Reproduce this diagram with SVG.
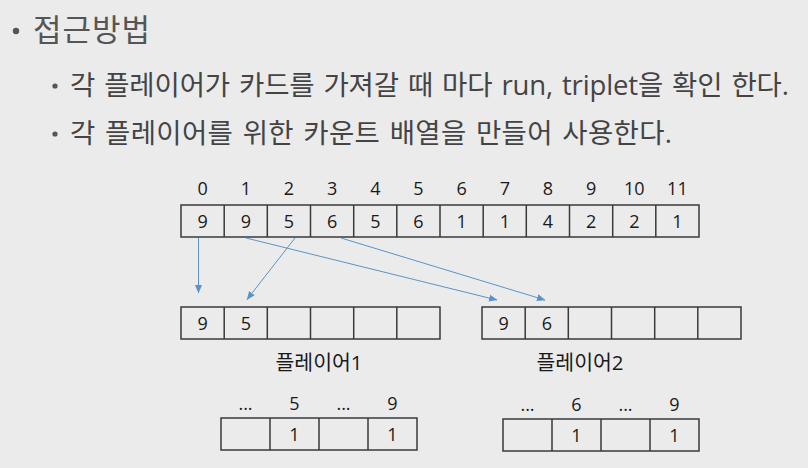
<svg xmlns="http://www.w3.org/2000/svg" width="808" height="468" viewBox="0 0 808 468">
<style>
.bg{fill:#ebebeb}
.cell{fill:none;stroke:#3a3a3a;stroke-width:1.5}
.num{font-family:"Open Sans","Noto Sans",sans-serif;font-size:18px;fill:#1a1a1a;text-anchor:middle}
.lbl{font-family:"Open Sans","Noto Sans CJK KR",sans-serif;font-size:20.5px;fill:#1a1a1a;text-anchor:middle}
.h1{font-family:"Open Sans","Noto Sans CJK KR",sans-serif;font-size:31px;fill:#555555}
.h2{font-family:"Open Sans","Noto Sans CJK KR",sans-serif;font-size:27.5px;fill:#444444;word-spacing:2px}
.bul{fill:#555555}
.conn{stroke:#5b93c8;stroke-width:1;fill:none;marker-end:url(#ah)}
</style>
<defs>
<marker id="ah" markerWidth="9" markerHeight="8" refX="8" refY="4" orient="auto" markerUnits="userSpaceOnUse">
<path d="M0,0.5 L8.5,4 L0,7.5 z" fill="#5b93c8"/>
</marker>
</defs>
<rect class="bg" x="0" y="0" width="808" height="468"/>

<g id="title">
<circle class="bul" cx="16" cy="31" r="3.2"/>
<text class="h1" x="33" y="41" textLength="117" lengthAdjust="spacing">접근방법</text>
</g>
<g id="bullet1">
<circle class="bul" cx="55" cy="86" r="2.6"/>
<text class="h2" x="70" y="95" textLength="719" lengthAdjust="spacing">각 플레이어가 카드를 가져갈 때 마다 run, triplet을 확인 한다.</text>
</g>
<g id="bullet2">
<circle class="bul" cx="55" cy="134" r="2.6"/>
<text class="h2" x="70" y="143" textLength="602" lengthAdjust="spacing">각 플레이어를 위한 카운트 배열을 만들어 사용한다.</text>
</g>

<g id="cards">
<g class="idx">
<text class="num" x="202.6" y="195">0</text>
<text class="num" x="245.8" y="195">1</text>
<text class="num" x="288.9" y="195">2</text>
<text class="num" x="332.1" y="195">3</text>
<text class="num" x="375.3" y="195">4</text>
<text class="num" x="418.4" y="195">5</text>
<text class="num" x="461.6" y="195">6</text>
<text class="num" x="504.8" y="195">7</text>
<text class="num" x="548" y="195">8</text>
<text class="num" x="591.1" y="195">9</text>
<text class="num" x="634.3" y="195">10</text>
<text class="num" x="677.4" y="195">11</text>
</g>
<rect class="cell" x="181" y="205" width="518" height="32"/>
<path class="cell" d="M224.2,205v32M267.3,205v32M310.5,205v32M353.7,205v32M396.8,205v32M440,205v32M483.2,205v32M526.3,205v32M569.5,205v32M612.7,205v32M655.8,205v32"/>
<text class="num" x="202.6" y="227.5">9</text>
<text class="num" x="245.8" y="227.5">9</text>
<text class="num" x="288.9" y="227.5">5</text>
<text class="num" x="332.1" y="227.5">6</text>
<text class="num" x="375.3" y="227.5">5</text>
<text class="num" x="418.4" y="227.5">6</text>
<text class="num" x="461.6" y="227.5">1</text>
<text class="num" x="504.8" y="227.5">1</text>
<text class="num" x="548" y="227.5">4</text>
<text class="num" x="591.1" y="227.5">2</text>
<text class="num" x="634.3" y="227.5">2</text>
<text class="num" x="677.4" y="227.5">1</text>
</g>

<g id="player1-hand">
<rect class="cell" x="181" y="307" width="259" height="32"/>
<path class="cell" d="M224.2,307v32M267.3,307v32M310.5,307v32M353.7,307v32M396.8,307v32"/>
<text class="num" x="202.6" y="329.5">9</text>
<text class="num" x="245.8" y="329.5">5</text>
</g>
<g id="player2-hand">
<rect class="cell" x="482" y="307" width="259" height="32"/>
<path class="cell" d="M525.2,307v32M568.3,307v32M611.5,307v32M654.7,307v32M697.8,307v32"/>
<text class="num" x="503.6" y="329.5">9</text>
<text class="num" x="546.8" y="329.5">6</text>
</g>

<g id="label-player1"><text class="lbl" x="319" y="370">플레이어1</text></g>
<g id="label-player2"><text class="lbl" x="580" y="370">플레이어2</text></g>

<g id="player1-count">
<text class="num" x="245.5" y="410">...</text>
<text class="num" x="294.5" y="410">5</text>
<text class="num" x="343.5" y="410">...</text>
<text class="num" x="392.5" y="410">9</text>
<rect class="cell" x="221" y="418" width="196" height="32"/>
<path class="cell" d="M270,418v32M319,418v32M368,418v32"/>
<text class="num" x="294.5" y="440.5">1</text>
<text class="num" x="392.5" y="440.5">1</text>
</g>
<g id="player2-count">
<text class="num" x="527.5" y="411">...</text>
<text class="num" x="576.5" y="411">6</text>
<text class="num" x="625.5" y="411">...</text>
<text class="num" x="674.5" y="411">9</text>
<rect class="cell" x="503" y="419" width="196" height="32"/>
<path class="cell" d="M552,419v32M601,419v32M650,419v32"/>
<text class="num" x="576.5" y="441.5">1</text>
<text class="num" x="674.5" y="441.5">1</text>
</g>

<g id="connectors">
<line class="conn" x1="198.5" y1="238" x2="198.5" y2="293"/>
<line class="conn" x1="295" y1="238" x2="247" y2="299.5"/>
<line class="conn" x1="246" y1="238" x2="497" y2="300"/>
<line class="conn" x1="341" y1="238" x2="545" y2="300"/>
</g>
</svg>
